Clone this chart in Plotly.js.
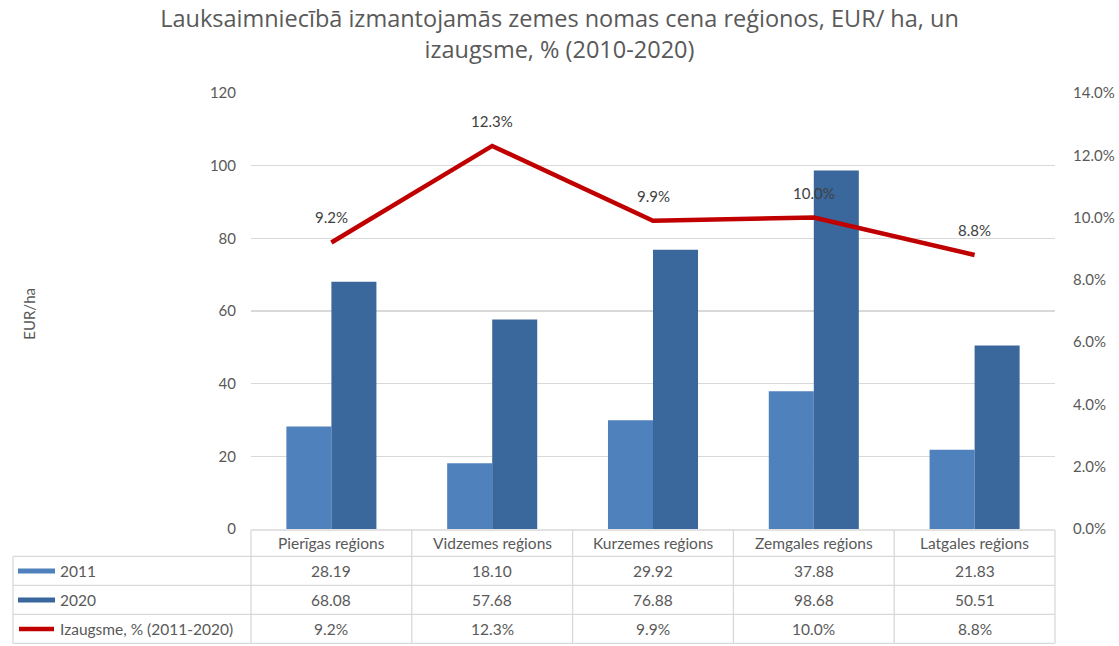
<!DOCTYPE html>
<html>
<head>
<meta charset="utf-8">
<script src="https://cdn.plot.ly/plotly-3.0.1.min.js"></script>
<style>html,body{margin:0;padding:0;background:#fff;}#chart{width:1119px;height:646px;}</style>
</head>
<body>
<div id="chart"></div>
<script>
const categories = ["Pierīgas reģions", "Vidzemes reģions", "Kurzemes reģions", "Zemgales reģions", "Latgales reģions"];
const values2011 = [28.19, 18.10, 29.92, 37.88, 21.83];
const values2020 = [68.08, 57.68, 76.88, 98.68, 50.51];
const growth = [0.092, 0.123, 0.099, 0.100, 0.088];
const seriesNames = ["2011", "2020", "Izaugsme, % (2011-2020)"];
const titleText = "Lauksaimniecībā izmantojamās zemes nomas cena reģionos, EUR/ ha, un<br>izaugsme, % (2010-2020)";
const yTitle = "EUR/ha";

const FONT = "Lato, 'Open Sans', sans-serif";
const TFONT = "'Open Sans', Lato, sans-serif";
const GREY = "#595959";
const c2011 = "#4F81BD";
const c2020 = "#3A679C";
const cLine = "#C00000";
const border = "#D9D9D9";

// plot geometry (pixels) for table placement
const W = 1119, H = 646;
const L = 251, R = 64, T = 93, B = 116.5;
const plotW = W - L - R, plotH = H - T - B;
const y0px = H - B;
const py = p => (y0px - p) / plotH;   // pixel -> paper y
const px = p => (p - L) / plotW;      // pixel -> paper x

const rowEdges = [530.5, 557, 586, 615, 644];
const tableLeft = px(13);

const traces = [
  {type: "bar", name: seriesNames[0], x: categories, y: values2011, marker: {color: c2011}, yaxis: "y", showlegend: false, hoverinfo: "y"},
  {type: "bar", name: seriesNames[1], x: categories, y: values2020, marker: {color: c2020}, yaxis: "y", showlegend: false, hoverinfo: "y"},
  {type: "scatter", mode: "lines", name: seriesNames[2], x: categories, y: growth, yaxis: "y2",
   line: {color: cLine, width: 4.5}, showlegend: false, hoverinfo: "y"}
];

const shapes = [];
const annotations = [];

// horizontal table lines
rowEdges.forEach((e, i) => {
  shapes.push({type: "line", xref: "paper", yref: "paper", x0: i === 0 ? 0 : tableLeft, x1: 1, y0: py(e), y1: py(e),
    line: {color: border, width: 1.3}});
});
// vertical table lines
for (let k = 0; k <= categories.length; k++) {
  shapes.push({type: "line", xref: "paper", yref: "paper", x0: k / categories.length, x1: k / categories.length,
    y0: py(rowEdges[0]), y1: py(rowEdges[4]), line: {color: border, width: 1.3}});
}
shapes.push({type: "line", xref: "paper", yref: "paper", x0: tableLeft, x1: tableLeft,
  y0: py(rowEdges[1]), y1: py(rowEdges[4]), line: {color: border, width: 1.3}});

// legend keys in table
const rowMid = i => py((rowEdges[i] + rowEdges[i + 1]) / 2);
shapes.push({type: "rect", xref: "paper", yref: "paper", x0: px(18), x1: px(55), y0: rowMid(1) - 2.5 / plotH, y1: rowMid(1) + 2.5 / plotH,
  fillcolor: c2011, line: {width: 0}});
shapes.push({type: "rect", xref: "paper", yref: "paper", x0: px(18), x1: px(55), y0: rowMid(2) - 2.5 / plotH, y1: rowMid(2) + 2.5 / plotH,
  fillcolor: c2020, line: {width: 0}});
shapes.push({type: "line", xref: "paper", yref: "paper", x0: px(19), x1: px(54), y0: rowMid(3), y1: rowMid(3),
  line: {color: cLine, width: 4.5}});

const tfont = {family: FONT, size: 15.5, color: GREY};
seriesNames.forEach((n, i) => {
  annotations.push({xref: "paper", yref: "paper", x: px(58), y: rowMid(i + 1), xanchor: "left", yanchor: "middle",
    text: n, showarrow: false, font: tfont});
});
categories.forEach((c, i) => {
  annotations.push({xref: "x", yref: "paper", x: c, y: rowMid(0), text: c, showarrow: false, font: tfont, yanchor: "middle"});
  annotations.push({xref: "x", yref: "paper", x: c, y: rowMid(1), text: values2011[i].toFixed(2), showarrow: false, font: tfont, yanchor: "middle"});
  annotations.push({xref: "x", yref: "paper", x: c, y: rowMid(2), text: values2020[i].toFixed(2), showarrow: false, font: tfont, yanchor: "middle"});
  annotations.push({xref: "x", yref: "paper", x: c, y: rowMid(3), text: (growth[i] * 100).toFixed(1) + "%", showarrow: false, font: tfont, yanchor: "middle"});
  // line data labels
  annotations.push({xref: "x", yref: "y2", x: c, y: growth[i], text: (growth[i] * 100).toFixed(1) + "%", showarrow: false,
    yshift: 25, font: {family: FONT, size: 15, color: "#404040"}});
});

// y axis title
annotations.push({xref: "paper", yref: "paper", x: px(18), y: py(314), text: yTitle, textangle: -90, showarrow: false,
  font: {family: FONT, size: 15, color: GREY}});

const layout = {
  width: W, height: H,
  margin: {l: L, r: R, t: T, b: B, pad: 0},
  paper_bgcolor: "#fff", plot_bgcolor: "#fff",
  title: {text: titleText, x: 0.5, xanchor: "center", y: 1 - 27 / H, yanchor: "middle", yref: "container",
    font: {family: TFONT, size: 23.5, color: GREY}},
  barmode: "group", bargap: 0.44, bargroupgap: 0,
  xaxis: {type: "category", showticklabels: false, showgrid: false, zeroline: false, showline: false, ticks: "", range: [-0.5, 4.5]},
  yaxis: {range: [0, 120], dtick: 20, tick0: 0, showgrid: true, gridcolor: border, gridwidth: 1.2, zeroline: false, showline: false,
    ticks: "", ticklabelstandoff: 14, tickfont: {family: FONT, size: 15, color: GREY}},
  yaxis2: {overlaying: "y", side: "right", range: [0, 0.14], dtick: 0.02, tick0: 0, tickformat: ".1%", showgrid: false, zeroline: false,
    showline: false, ticks: "", ticklabelstandoff: 17, tickfont: {family: FONT, size: 15, color: GREY}},
  shapes: shapes,
  annotations: annotations,
  showlegend: false
};

Plotly.newPlot("chart", traces, layout, {displayModeBar: false, staticPlot: true});
</script>
</body>
</html>
